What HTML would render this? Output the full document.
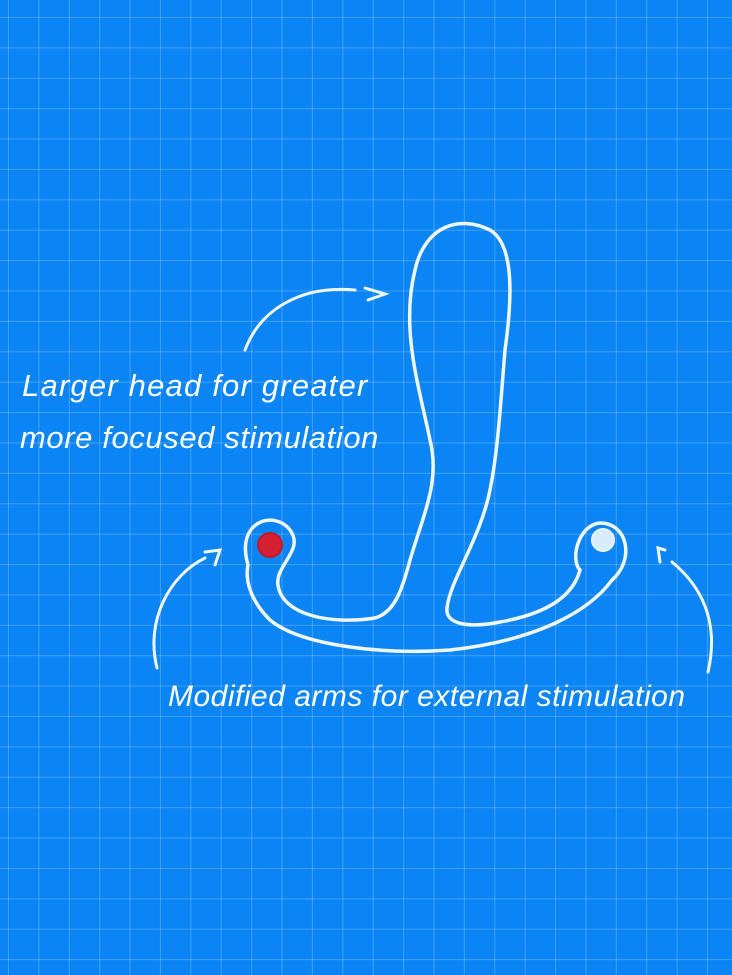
<!DOCTYPE html>
<html><head><style>
html,body{margin:0;padding:0}
body{width:732px;height:975px;overflow:hidden;background:#0b85f5;
background-image:linear-gradient(rgba(255,255,255,.22) 1px,transparent 1px),linear-gradient(90deg,rgba(255,255,255,.22) 1px,transparent 1px);
background-size:30.4px 30.4px;background-position:8px 17px;position:relative;font-family:"Liberation Sans",sans-serif;color:#fff}
.t{position:absolute;font-size:31px;white-space:nowrap;font-style:italic;letter-spacing:0.6px}
</style></head><body>
<svg width="732" height="975" style="position:absolute;left:0;top:0" fill="none" stroke="#eef6ff" stroke-linecap="round">
<g stroke-width="3.5">
<path d="M248,565 C235,520 275,510 290,530 C305,550 275,565 278,585 C282,615 330,625 375,618 C395,612 402,590 410,560 C425,510 440,480 430,440 C420,390 400,330 415,270 C425,225 460,215 490,230 C515,245 512,300 505,350 C500,410 498,450 490,490 C480,540 450,580 447,608 C445,625 470,628 500,622 C540,615 572,600 580,570 C570,560 578,525 600,523 C628,523 635,560 612,580 C590,610 540,640 450,650 C380,655 300,645 270,620 C250,600 245,580 248,565 Z"/>
</g>
<circle cx="270" cy="545" r="12" fill="#d42030" stroke="#c01a2a" stroke-width="2"/>
<circle cx="603" cy="540" r="11" fill="#d8ecff" stroke="#e8f4ff" stroke-width="2"/>
<g stroke-width="3">
<path d="M245,350 C260,310 300,285 355,290"/>
<path d="M365,288 L385,294 L368,300"/>
<path d="M157,668 C145,620 170,575 205,558"/>
<path d="M205,552 L220,550 L215,565"/>
<path d="M708,672 C720,620 700,585 672,562"/>
<path d="M665,550 L658,548 L660,562"/>
</g>
</svg>
<div class="t" style="left:22px;top:368px;letter-spacing:1.2px">Larger head for greater</div>
<div class="t" style="left:20px;top:420px;letter-spacing:0.6px">more focused stimulation</div>
<div class="t" style="left:168px;top:680px;font-size:30px;letter-spacing:0.5px">Modified arms for external stimulation</div>
</body></html>
